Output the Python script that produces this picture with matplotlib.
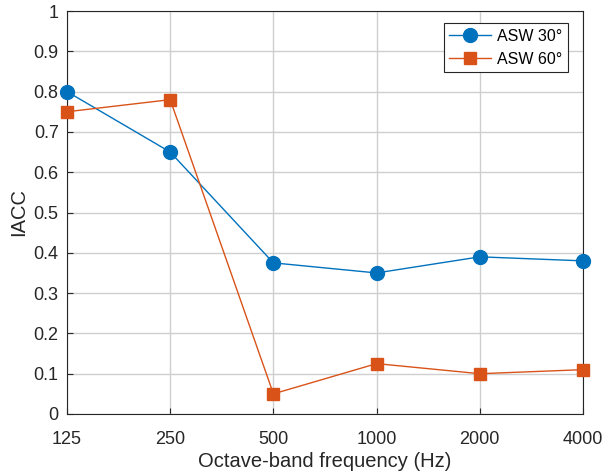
import matplotlib
matplotlib.use("Agg")
import matplotlib.pyplot as plt

freq_labels = ["125", "250", "500", "1000", "2000", "4000"]
asw30 = [0.80, 0.65, 0.375, 0.35, 0.39, 0.38]
asw60 = [0.75, 0.78, 0.05, 0.125, 0.10, 0.11]
y_ticks = [0, 0.1, 0.2, 0.3, 0.4, 0.5, 0.6, 0.7, 0.8, 0.9, 1]
y_tick_labels = ["0", "0.1", "0.2", "0.3", "0.4", "0.5", "0.6", "0.7", "0.8", "0.9", "1"]

plt.rcParams['font.family'] = ['Liberation Sans', 'DejaVu Sans']

fig = plt.figure(figsize=(6.02, 4.72), dpi=100)
ax = fig.add_axes([67/602, 1-414/472, (583-67)/602, (414-11)/472])
x = list(range(len(freq_labels)))
ax.plot(x, asw30, '-o', color='#0072BD', lw=1.0, ms=10, label='ASW 30°', clip_on=False, zorder=3)
ax.plot(x, asw60, '-s', color='#D95319', lw=1.0, ms=9, label='ASW 60°', clip_on=False, zorder=3)
ax.set_xlim(0, len(freq_labels)-1)
ax.set_ylim(0, 1)
ax.set_xticks(x)
ax.set_xticklabels(freq_labels)
ax.set_yticks(y_ticks)
ax.set_yticklabels(y_tick_labels)
ax.grid(True, color='#cfcfcf', lw=1.0)
ax.set_axisbelow(True)
ax.tick_params(direction='in', labelsize=13, colors='#262626', length=4)
ax.tick_params(axis='x', pad=12)
ax.tick_params(axis='y', pad=6)
for s in ax.spines.values():
    s.set_color('#262626')
    s.set_linewidth(0.8)
ax.set_xlabel('Octave-band frequency (Hz)', fontsize=14.5, color='#262626', labelpad=3)
ax.set_ylabel('IACC', fontsize=14.5, color='#262626', labelpad=4)
leg = ax.legend(loc='upper right', fontsize=11.5, fancybox=False, framealpha=1,
                edgecolor='#262626', bbox_to_anchor=(568/602, 1-23/472),
                bbox_transform=fig.transFigure, borderaxespad=0, handlelength=2.6,
                borderpad=0.35, labelspacing=0.5, handletextpad=0.4)
leg.get_frame().set_linewidth(0.8)
fig.savefig('out.png', dpi=100)
